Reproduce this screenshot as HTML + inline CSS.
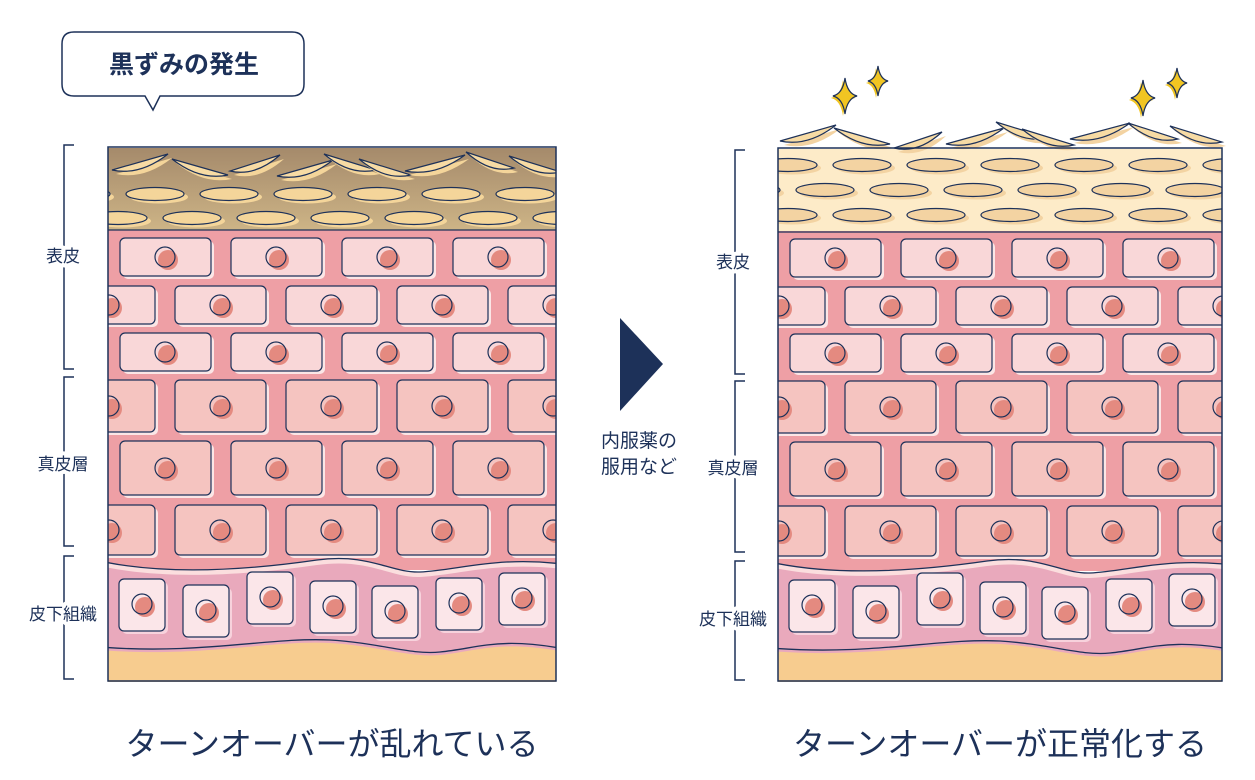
<!DOCTYPE html>
<html><head><meta charset="utf-8">
<style>
html,body{margin:0;padding:0;background:#fff;}
svg{display:block}
text{font-family:"Liberation Sans","Noto Sans CJK JP",sans-serif;fill:#1d3159}
.lb{stroke:#fff;stroke-width:8;paint-order:stroke;stroke-linejoin:round}
</style></head>
<body>
<svg id="s" width="1255" height="780" viewBox="0 0 1255 780" xmlns="http://www.w3.org/2000/svg">
<defs>
<linearGradient id="br" x1="0" y1="0" x2="0" y2="1">
<stop offset="0" stop-color="#a58a6b"/><stop offset="1" stop-color="#cdb486"/></linearGradient>
<clipPath id="cl"><rect x="108" y="148" width="448" height="534"/></clipPath>
<clipPath id="cr"><rect x="778" y="148" width="444" height="534"/></clipPath>
</defs>
<g id="L" clip-path="url(#cl)"></g>
<g id="R" clip-path="url(#cr)"></g>
<g id="F"></g>
<rect x="108" y="147" width="448" height="534" fill="none" stroke="#1d3159" stroke-width="1.5"/>
<rect x="778" y="148" width="444" height="533" fill="none" stroke="#1d3159" stroke-width="1.5"/>
<line x1="108" y1="230" x2="556" y2="230" stroke="#1d3159" stroke-width="1.2"/>
<line x1="778" y1="232" x2="1222" y2="232" stroke="#1d3159" stroke-width="1.2"/>
<g stroke="#1d3159" stroke-width="1.5" fill="none">
<path d="M74 145 H64 V369 H74 M74 377 H64 V546 H74 M74 556 H64 V679 H74"/>
<path d="M745 150 H735 V374 H745 M745 381 H735 V552 H745 M745 561 H735 V680 H745"/>
</g>
<text class="lb" x="63" y="262" font-size="17" text-anchor="middle">表皮</text>
<text class="lb" x="63" y="470" font-size="17" text-anchor="middle">真皮層</text>
<text class="lb" x="63" y="620" font-size="17" text-anchor="middle">皮下組織</text>
<text class="lb" x="733" y="268" font-size="17" text-anchor="middle">表皮</text>
<text class="lb" x="733" y="474" font-size="17" text-anchor="middle">真皮層</text>
<text class="lb" x="733" y="625" font-size="17" text-anchor="middle">皮下組織</text>
<path d="M74 32 H292 Q304 32 304 44 V84 Q304 96 292 96 H160 L153 110 L145 96 H74 Q62 96 62 84 V44 Q62 32 74 32 Z" fill="#fff" stroke="#1d3159" stroke-width="1.5"/>
<text x="184" y="73" font-size="25" text-anchor="middle" font-weight="bold">黒ずみの発生</text>
<path d="M620 318 L663 364 L620 411 Z" fill="#1d3159"/>
<text x="639" y="447" font-size="19" text-anchor="middle">内服薬の</text>
<text x="639" y="473" font-size="19" text-anchor="middle">服用など</text>
<text x="332" y="755" font-size="32" text-anchor="middle">ターンオーバーが乱れている</text>
<text x="1000" y="755" font-size="32" text-anchor="middle">ターンオーバーが正常化する</text>
</svg>
<script>
const NS="http://www.w3.org/2000/svg";
function el(p,t,a){const e=document.createElementNS(NS,t);for(const k in a)e.setAttribute(k,a[k]);p.appendChild(e);return e;}
const ST="#1d3159";
function flake(g,cx,cy,w,s,fill){
  el(g,'path',{d:`M${cx-w+4} ${cy-8*s+4} Q${cx+4} ${cy+18} ${cx+w+4} ${cy+8*s+4} Q${cx+4} ${cy+4} ${cx-w+4} ${cy-8*s+4}Z`,fill:fill});
  el(g,'path',{d:`M${cx-w} ${cy-8*s} Q${cx} ${cy+14} ${cx+w} ${cy+8*s} Q${cx} ${cy} ${cx-w} ${cy-8*s}Z`,fill:"#f7dba4",stroke:ST,"stroke-width":1.2});
}
function panel(g,dx,dy,right){
  el(g,'rect',{x:dx+100,y:dy+230,width:470,height:340,fill:"#ee9fa5"});
  el(g,'rect',{x:dx+100,y:dy+148,width:470,height:82,fill:right?"#fdebc8":"url(#br)"});
  const ry=right?[164,189,214]:[167,194,218];
  const start=right?[true,false,true]:[null,false,true];
  ry.forEach((y,i)=>{
    if(start[i]===null){
      [[140,162,28,-1],[200,167,28,1],[255,163,25,-1],[305,168,28,-1],[350,162,26,1],[385,167,26,1],[435,163,30,-1],[490,160,24,1],[535,164,26,1]].forEach(([x,y,w,s])=>flake(g,x,y,w,s,"#f4d59a"));
      return;}
    const off=start[i]?0:37;
    for(let k=-1;k<7;k++){const cx=dx+118+off+k*74,cy=dy+y;
      el(g,'ellipse',{cx:cx+4,cy:cy+3,rx:29,ry:6.5,fill:right?"#f3d3a2":"#f4d59a"});
      el(g,'ellipse',{cx:cx,cy:cy,rx:29,ry:6.5,fill:right?"#f3d3a2":"#f4d59a",stroke:ST,"stroke-width":1.2});}
  });
  const rows=[[238,38,120,"#f9d7d8"],[286,38,64,"#f9d7d8"],[333,38,120,"#f9d7d8"],
              [380,52,64,"#f5c4c0"],[441,54,120,"#f5c4c0"],[505,50,64,"#f5c4c0"]];
  rows.forEach(([y,h,x0,f])=>{
    for(let k=-1;k<6;k++){const x=dx+x0+k*111,yy=dy+y;
      el(g,'rect',{x:x+3,y:yy+3,width:91,height:h,rx:5,fill:"#fbe6e6"});
      el(g,'rect',{x:x,y:yy,width:91,height:h,rx:5,fill:f,stroke:ST,"stroke-width":1.2});
      const cx=x+45,cy=yy+h/2;
      el(g,'circle',{cx:cx+3,cy:cy+3,r:10,fill:"#e48a80"});
      el(g,'circle',{cx:cx,cy:cy,r:10,fill:"none",stroke:ST,"stroke-width":1.2});}
  });
  const X=v=>dx+v, Y=v=>dy+v;
  const top=`M${X(100)} ${Y(561)} C${X(150)} ${Y(572)} ${X(220)} ${Y(574)} ${X(317)} ${Y(560)} C${X(370)} ${Y(553)} ${X(390)} ${Y(573)} ${X(420)} ${Y(572)} C${X(460)} ${Y(570)} ${X(500)} ${Y(555)} ${X(570)} ${Y(565)}`;
  const bot=`M${X(100)} ${Y(647)} C${X(200)} ${Y(655)} ${X(270)} ${Y(637)} ${X(330)} ${Y(640)} C${X(380)} ${Y(643)} ${X(410)} ${Y(655)} ${X(440)} ${Y(652)} C${X(480)} ${Y(648)} ${X(500)} ${Y(636)} ${X(570)} ${Y(650)}`;
  el(g,'path',{d:top+` L${X(570)} ${Y(700)} L${X(100)} ${Y(700)}Z`,fill:"#fbdede"});
  el(g,'path',{d:top+` L${X(570)} ${Y(700)} L${X(100)} ${Y(700)}Z`,fill:"#e9a9bc",transform:"translate(0,5)"});
  el(g,'path',{d:bot+` L${X(570)} ${Y(700)} L${X(100)} ${Y(700)}Z`,fill:"#f7cc8f",transform:"translate(0,3)"});
  el(g,'path',{d:top,fill:"none",stroke:ST,"stroke-width":1.3});
  el(g,'path',{d:bot,fill:"none",stroke:ST,"stroke-width":1.3});
  const sc=[[119,579],[183,585],[247,572],[310,581],[372,586],[436,578],[499,573]];
  sc.forEach(([x,y])=>{x=X(x);y=Y(y);
    el(g,'rect',{x:x+3,y:y+3,width:46,height:52,rx:5,fill:"#f7d2dc"});
    el(g,'rect',{x:x,y:y,width:46,height:52,rx:5,fill:"#fbe6e9",stroke:ST,"stroke-width":1.2});
    el(g,'circle',{cx:x+26,cy:y+28,r:10,fill:"#e48a80"});
    el(g,'circle',{cx:x+23,cy:y+25,r:10,fill:"none",stroke:ST,"stroke-width":1.2});});
}
panel(document.getElementById('L'),0,0,false);
panel(document.getElementById('R'),670,1,true);
const F=document.getElementById('F');
[[808,133,28,-1],[862,136,28,1],[918,140,24,-1],[975,136,29,-1],[1022,130,26,1],[1048,137,26,1],[1100,131,30,-1],[1153,131,25,1],[1196,134,26,1]].forEach(([cx,cy,w,s])=>flake(F,cx,cy,w,s,"#f3d3a2"));
[[845,96,18],[878,81,15],[1143,98,18],[1177,83,15]].forEach(([x,y,r])=>{
  const w=r*0.42;
  const p=(ox,oy)=>`M${x+ox} ${y-r+oy} Q${x+w*0.3+ox} ${y-w*0.3+oy} ${x+w*1.6+ox} ${y+oy} Q${x+w*0.3+ox} ${y+w*0.3+oy} ${x+ox} ${y+r+oy} Q${x-w*0.3+ox} ${y+w*0.3+oy} ${x-w*1.6+ox} ${y+oy} Q${x-w*0.3+ox} ${y-w*0.3+oy} ${x+ox} ${y-r+oy}Z`;
  el(F,'path',{d:p(-2,2),fill:"#f1c522"});
  el(F,'path',{d:p(0,0),fill:"#f1c522",stroke:ST,"stroke-width":1.2});
});
</script>
</body></html>
